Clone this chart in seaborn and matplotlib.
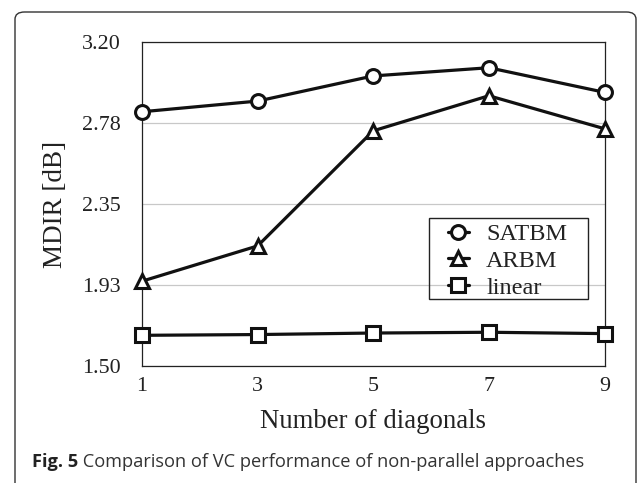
import matplotlib
matplotlib.use("Agg")
import matplotlib.pyplot as plt
import numpy as np
import pandas as pd
import seaborn as sns
from matplotlib.patches import FancyBboxPatch, Rectangle

# ---------------- data ----------------
diagonals = [1, 3, 5, 7, 9]
satbm = [2.834, 2.890, 3.022, 3.065, 2.936]
arbm = [1.945, 2.130, 2.734, 2.918, 2.745]
linear = [1.661, 1.665, 1.673, 1.677, 1.670]
series_names = ["SATBM", "ARBM", "linear"]
series_markers = {"SATBM": "o", "ARBM": "^", "linear": "s"}
y_ticks = [1.50, 1.925, 2.35, 2.775, 3.20]
y_tick_labels = ["1.50", "1.93", "2.35", "2.78", "3.20"]
x_ticks = [1, 3, 5, 7, 9]
x_label = "Number of diagonals"
y_label = "MDIR [dB]"
caption_bold = "Fig. 5"
caption_text = " Comparison of VC performance of non-parallel approaches"

df = pd.DataFrame({
    "diag": diagonals * 3,
    "mdir": satbm + arbm + linear,
    "method": [n for n in series_names for _ in diagonals],
})

# ---------------- style ----------------
sns.set_style("white")
plt.rcParams["font.family"] = ["Liberation Serif", "DejaVu Serif"]

W, H = 637, 483
fig = plt.figure(figsize=(W / 100, H / 100), dpi=100)

def fx(px):
    return px / W

def fy(py):
    return 1 - py / H

ax_l, ax_r, ax_t, ax_b = 142, 604.5, 42, 366
ax = fig.add_axes([fx(ax_l), fy(ax_b), fx(ax_r - ax_l), (ax_b - ax_t) / H])

ink = "#111111"
sns.lineplot(data=df, x="diag", y="mdir", style="method", style_order=series_names,
             markers=series_markers, dashes=False, color=ink, linewidth=2.3,
             markersize=10, legend=False, ax=ax)
for line in ax.lines:
    line.set_markerfacecolor("white")
    line.set_markeredgecolor(ink)
    line.set_markeredgewidth(2.2)
    line.set_clip_on(False)
    line.set_zorder(3)

ax.set_xlim(1, 9)
ax.set_ylim(1.5, 3.2)
ax.set_xticks(x_ticks)
ax.set_yticks(y_ticks, y_tick_labels)
ax.tick_params(axis="both", length=0, labelsize=15.8, colors="#222222")
ax.tick_params(axis="y", pad=15.5)
ax.tick_params(axis="x", pad=8)
ax.yaxis.grid(True, color="#c8c8c8", linewidth=0.9)
ax.xaxis.grid(False)
ax.set_axisbelow(True)
for s in ax.spines.values():
    s.set_visible(True)
    s.set_color("#222222")
    s.set_linewidth(0.9)

ax.set_xlabel(x_label, fontsize=19.3, color="#222222")
ax.set_ylabel(y_label, fontsize=19.5, color="#222222")
ax.xaxis.label.set_va("center")
ax.yaxis.label.set_va("center")
ax.xaxis.set_label_coords(0.5, (ax_b - 421) / (ax_b - ax_t))
ax.yaxis.set_label_coords((55 - ax_l) / (ax_r - ax_l), 0.5)

# legend
leg = ax.legend(handles=ax.lines[:3], labels=series_names, loc="upper left",
                bbox_to_anchor=(fx(448), fy(223)), bbox_transform=fig.transFigure,
                frameon=False, fontsize=17.5, handlelength=0.85, handletextpad=0.72,
                labelspacing=0.2, borderpad=0, borderaxespad=0)
for t in leg.get_texts():
    t.set_color("#222222")
fig.add_artist(Rectangle((fx(429), fy(299)), fx(588 - 429), (299 - 218) / H,
                         transform=fig.transFigure, fill=False,
                         edgecolor="#222222", linewidth=1.0))

# outer rounded frame
fig.add_artist(FancyBboxPatch((fx(15), fy(520)), fx(636 - 15), (520 - 12) / H,
                              boxstyle="round,pad=0,rounding_size=0.015",
                              transform=fig.transFigure, fill=False,
                              edgecolor="#333333", linewidth=1.0, clip_on=False))

# caption
cap_font = ["Open Sans", "DejaVu Sans"]
cap_y = fy(462)
t1 = fig.text(fx(32), cap_y, caption_bold, fontsize=14, fontweight="bold",
              family=cap_font, va="center", ha="left", color="#222222")
t2 = fig.text(0, cap_y, caption_text, fontsize=14, family=cap_font,
              va="center", ha="left", color="#333333")
fig.canvas.draw()
r = fig.canvas.get_renderer()
w1 = t1.get_window_extent(r).width
w2 = t2.get_window_extent(r).width
scale = (587 - 32) / (w1 + w2)
t1.set_fontsize(14 * scale)
t2.set_fontsize(14 * scale)
fig.canvas.draw()
w1 = t1.get_window_extent(r).width
t2.set_x(fx(32 + w1))

fig.savefig("out.png", dpi=100)
